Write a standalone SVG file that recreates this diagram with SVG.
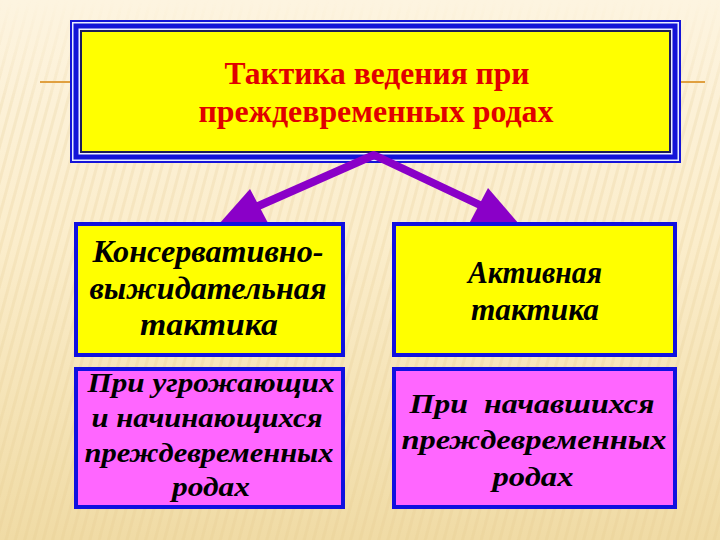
<svg xmlns="http://www.w3.org/2000/svg" width="720" height="540" viewBox="0 0 720 540">
  <defs>
    <linearGradient id="bg" x1="0" y1="0" x2="0" y2="1">
      <stop offset="0" stop-color="#fdf4e0"/>
      <stop offset="0.45" stop-color="#fbedcb"/>
      <stop offset="1" stop-color="#f0dba5"/>
    </linearGradient>
    <pattern id="stripes" width="9" height="9" patternUnits="userSpaceOnUse" patternTransform="rotate(15)">
      <rect width="3" height="9" fill="#e2c88e" opacity="0.22"/>
    </pattern>
    <linearGradient id="fade" x1="0" y1="0" x2="0" y2="1">
      <stop offset="0" stop-color="#fff" stop-opacity="0"/>
      <stop offset="0.2" stop-color="#fff" stop-opacity="1"/>
      <stop offset="1" stop-color="#fff" stop-opacity="1"/>
    </linearGradient>
    <mask id="stripeMask">
      <rect width="720" height="540" fill="url(#fade)"/>
    </mask>
    <style>
      .title { font-family: "Liberation Serif", "Times New Roman", serif; font-weight: bold; font-size: 31px; fill: #e00000; text-anchor: middle; }
      .lbl { font-family: "Liberation Serif", "Times New Roman", serif; font-weight: bold; font-style: italic; font-size: 31px; fill: #000; text-anchor: middle; }
      .sub { font-family: "Liberation Serif", "Times New Roman", serif; font-weight: bold; font-style: italic; font-size: 27px; fill: #000; text-anchor: middle; }
      .box { stroke: #1010e0; stroke-width: 4; }
      .yel { fill: #ffff00; }
      .pink { fill: #ff66ff; }
      .conn { stroke: #8a00c8; stroke-width: 8; fill: none; stroke-linejoin: round; }
      .head { fill: #8a00c8; }
    </style>
  </defs>

  <rect width="720" height="540" fill="url(#bg)"/>
  <rect width="720" height="540" fill="url(#stripes)" mask="url(#stripeMask)"/>
  <line x1="40" y1="82" x2="72" y2="82" stroke="#e0a040" stroke-width="2"/>
  <line x1="680" y1="82" x2="705" y2="82" stroke="#e0a040" stroke-width="2"/>

  <g id="title-node">
    <rect x="70" y="20" width="611" height="143" fill="#1414d8"/>
    <rect x="72" y="22" width="607" height="139" fill="#e8ecff"/>
    <rect x="73.5" y="23.5" width="604" height="136" fill="#1414d8"/>
    <rect x="78.5" y="28.5" width="594" height="126" fill="#eef0ff"/>
    <rect x="80" y="30" width="591" height="123" fill="#1c1c5a"/>
    <rect x="82" y="32" width="587" height="119" fill="#ffff00"/>
    <text class="title" x="377" y="84" textLength="305" lengthAdjust="spacingAndGlyphs">Тактика ведения при</text>
    <text class="title" x="376" y="122" textLength="355" lengthAdjust="spacingAndGlyphs">преждевременных родах</text>
  </g>

  <g id="connectors">
    <path class="conn" d="M 256,207 L 374,155 L 482,206"/>
    <path class="head" d="M 219,224 L 250,189 L 268,223 Z"/>
    <path class="head" d="M 519,224 L 488,188 L 470,222 Z"/>
  </g>

  <g id="conservative">
    <rect class="box yel" x="76" y="224" width="267" height="131"/>
    <text class="lbl" x="208" y="262" textLength="231" lengthAdjust="spacingAndGlyphs">Консервативно-</text>
    <text class="lbl" x="208" y="299" textLength="237" lengthAdjust="spacingAndGlyphs">выжидательная</text>
    <text class="lbl" x="209" y="335" textLength="138" lengthAdjust="spacingAndGlyphs">тактика</text>
  </g>

  <g id="active">
    <rect class="box yel" x="394" y="224" width="281" height="131"/>
    <text class="lbl" x="535" y="283" textLength="134" lengthAdjust="spacingAndGlyphs">Активная</text>
    <text class="lbl" x="535" y="320" textLength="128" lengthAdjust="spacingAndGlyphs">тактика</text>
  </g>

  <g id="threatened">
    <rect class="box pink" x="76" y="369" width="267" height="138"/>
    <text class="sub" x="211" y="392" textLength="247" lengthAdjust="spacingAndGlyphs">При угрожающих</text>
    <text class="sub" x="207" y="427" textLength="231" lengthAdjust="spacingAndGlyphs">и начинающихся</text>
    <text class="sub" x="209" y="462" textLength="249" lengthAdjust="spacingAndGlyphs">преждевременных</text>
    <text class="sub" x="211" y="496" textLength="78" lengthAdjust="spacingAndGlyphs">родах</text>
  </g>

  <g id="started">
    <rect class="box pink" x="394" y="369" width="281" height="138"/>
    <text class="sub" x="532" y="413" textLength="245" lengthAdjust="spacingAndGlyphs" xml:space="preserve">При  начавшихся</text>
    <text class="sub" x="534" y="449" textLength="265" lengthAdjust="spacingAndGlyphs">преждевременных</text>
    <text class="sub" x="533" y="486" textLength="81" lengthAdjust="spacingAndGlyphs">родах</text>
  </g>
</svg>
